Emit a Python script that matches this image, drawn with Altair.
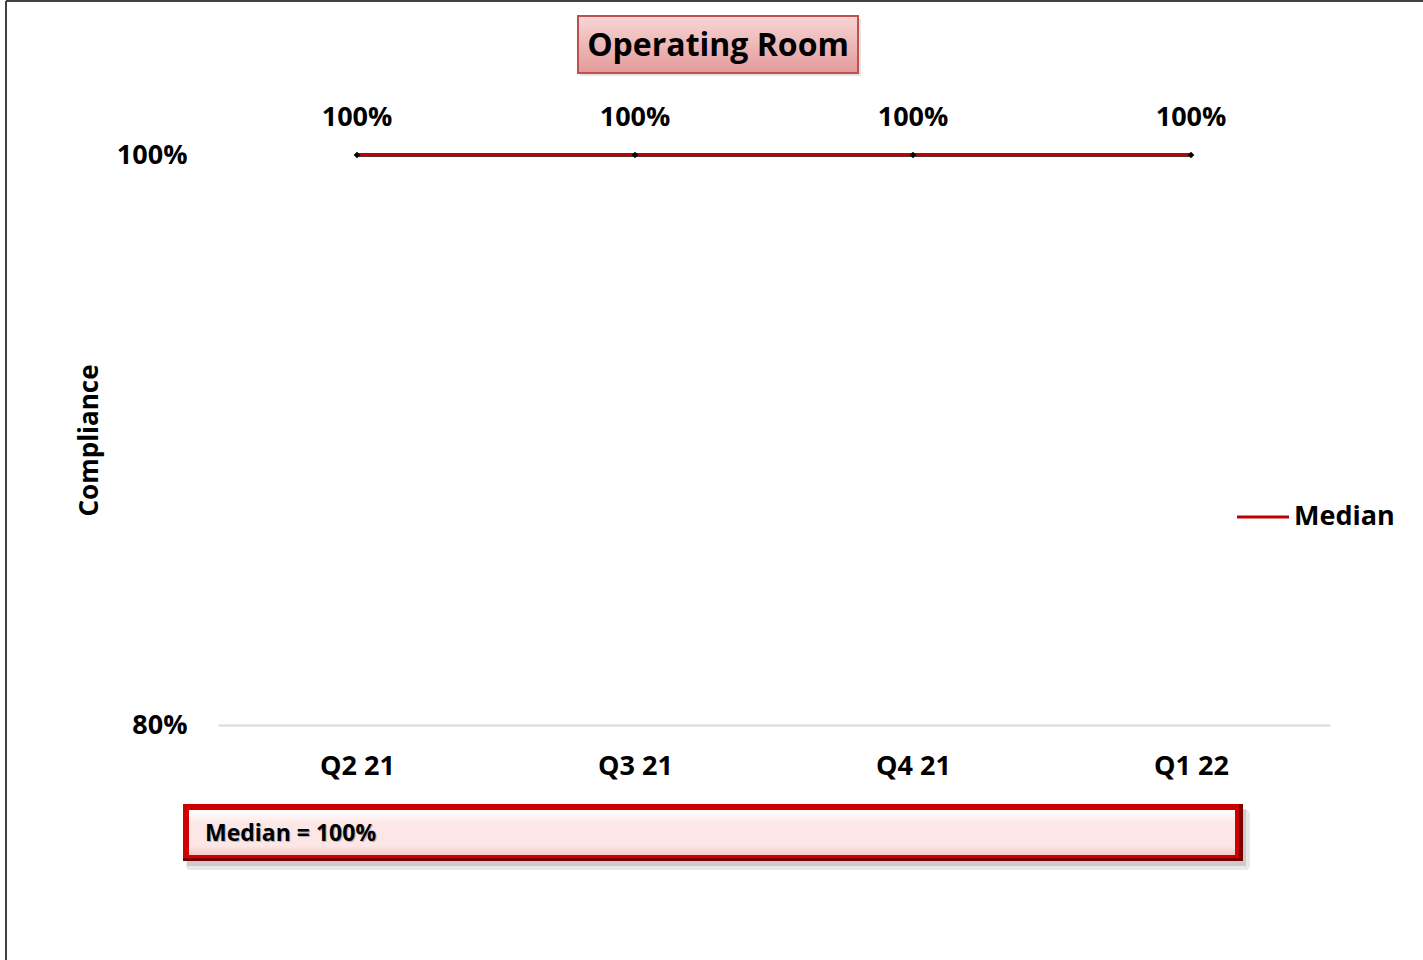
import altair as alt
import pandas as pd

# Quarterly compliance for the Operating Room
quarters = ["Q2 21", "Q3 21", "Q4 21", "Q1 22"]
compliance = [1.00, 1.00, 1.00, 1.00]
median_value = 1.00

FONT = "Open Sans"

df = pd.DataFrame({
    "quarter": quarters,
    "compliance": compliance,
    "median": [median_value] * len(quarters),
})

W, H = 1112, 570
LEFT, TOP = 218, 155

x_enc = alt.X(
    "quarter:N", sort=quarters, title=None,
    scale=alt.Scale(paddingInner=0, paddingOuter=0),
    axis=alt.Axis(labelAngle=0, labelFont=FONT, labelFontSize=27, labelFontWeight="bold",
                  labelColor="black", labelPadding=28, ticks=False,
                  domainColor="#d9d9d9", domainWidth=2),
)
y_enc = alt.Y(
    "compliance:Q", title="Compliance",
    scale=alt.Scale(domain=[0.8, 1.0], nice=False, zero=False),
    axis=alt.Axis(values=[0.8, 1.0], format=".0%", labelFont=FONT, labelFontSize=27,
                  labelFontWeight="bold", labelColor="black", labelPadding=31,
                  ticks=False, domain=False, grid=False,
                  titleFont=FONT, titleFontSize=26, titleFontWeight="bold",
                  titleColor="black", titlePadding=14),
)

base = alt.Chart(df)

data_line = base.mark_line(color="#404040", strokeWidth=4).encode(x=x_enc, y=y_enc)
median_line = base.mark_line(color="#c00000", strokeWidth=2.5).encode(
    x=alt.X("quarter:N", sort=quarters), y=alt.Y("median:Q"))
points = base.mark_point(shape="diamond", filled=True, color="black", size=45, opacity=1).encode(
    x=alt.X("quarter:N", sort=quarters), y=alt.Y("compliance:Q"))
labels = base.mark_text(font=FONT, fontSize=27, fontWeight="bold", color="black", dy=-37).encode(
    x=alt.X("quarter:N", sort=quarters), y=alt.Y("compliance:Q"),
    text=alt.Text("compliance:Q", format=".0%"))

one = pd.DataFrame({"k": [0]})
deco = alt.Chart(one)

# Outer frame (left and top edges)
frame_left = deco.mark_rule(color="#404040", strokeWidth=2).encode(
    x=alt.value(6 - LEFT), y=alt.value(1 - TOP), y2=alt.value(960 - TOP))
frame_top = deco.mark_rule(color="#404040", strokeWidth=2).encode(
    x=alt.value(6 - LEFT), x2=alt.value(1423 - LEFT), y=alt.value(1 - TOP))

# Title box
title_shadow = deco.mark_rect(fill="#cccccc", opacity=0.5).encode(
    x=alt.value(580 - LEFT), x2=alt.value(861 - LEFT), y=alt.value(19 - TOP), y2=alt.value(76 - TOP))
title_box = deco.mark_rect(
    fill=alt.Gradient(gradient="linear", x1=0, y1=0, x2=0, y2=1,
                      stops=[alt.GradientStop(color="#f7d6d6", offset=0),
                             alt.GradientStop(color="#eeb8b8", offset=0.5),
                             alt.GradientStop(color="#e39a9a", offset=1)]),
    stroke="#c0504d", strokeWidth=2,
).encode(x=alt.value(578 - LEFT), x2=alt.value(858 - LEFT), y=alt.value(16 - TOP), y2=alt.value(73 - TOP))
title_text = deco.mark_text(font=FONT, fontSize=32, fontWeight="bold", color="black",
                            align="center", baseline="middle").encode(
    x=alt.value(718 - LEFT), y=alt.value(46 - TOP), text=alt.value("Operating Room"))

# Median summary box
box_shadow_outer = deco.mark_rect(fill="#bdbdbd", opacity=0.35, cornerRadius=4).encode(
    x=alt.value(186 - LEFT), x2=alt.value(1250 - LEFT), y=alt.value(810 - TOP), y2=alt.value(870 - TOP))
box_shadow = deco.mark_rect(fill="#a0a0a0", opacity=0.4).encode(
    x=alt.value(187 - LEFT), x2=alt.value(1246 - LEFT), y=alt.value(809 - TOP), y2=alt.value(866 - TOP))
box_outer = deco.mark_rect(fill="#7a0000").encode(
    x=alt.value(183 - LEFT), x2=alt.value(1243 - LEFT), y=alt.value(804 - TOP), y2=alt.value(861 - TOP))
box_edge = deco.mark_rect(fill="#d00000").encode(
    x=alt.value(183 - LEFT), x2=alt.value(1239 - LEFT), y=alt.value(804 - TOP), y2=alt.value(858 - TOP))
box_inner = deco.mark_rect(
    fill=alt.Gradient(gradient="linear", x1=0, y1=0, x2=0, y2=1,
                      stops=[alt.GradientStop(color="#ffffff", offset=0),
                             alt.GradientStop(color="#fde6e6", offset=0.3),
                             alt.GradientStop(color="#fde6e6", offset=0.8),
                             alt.GradientStop(color="#f3caca", offset=1)]),
).encode(x=alt.value(189 - LEFT), x2=alt.value(1235 - LEFT), y=alt.value(810 - TOP), y2=alt.value(855 - TOP))
box_text_shadow = deco.mark_text(font=FONT, fontSize=23, fontWeight="bold", color="#b0b0b0",
                                 align="left", baseline="middle").encode(
    x=alt.value(206 - LEFT), y=alt.value(835 - TOP), text=alt.value(f"Median = {median_value:.0%}"))
box_text = deco.mark_text(font=FONT, fontSize=23, fontWeight="bold", color="black",
                          align="left", baseline="middle").encode(
    x=alt.value(205 - LEFT), y=alt.value(834 - TOP), text=alt.value(f"Median = {median_value:.0%}"))

# Legend entry for the median line
legend_line = deco.mark_rule(color="#c00000", strokeWidth=3).encode(
    x=alt.value(1237 - LEFT), x2=alt.value(1289 - LEFT), y=alt.value(517 - TOP))
legend_text = deco.mark_text(font=FONT, fontSize=27, fontWeight="bold", color="black",
                             align="left", baseline="middle").encode(
    x=alt.value(1294 - LEFT), y=alt.value(517 - TOP), text=alt.value("Median"))

chart = alt.layer(
    frame_left, frame_top,
    data_line, median_line, points, labels,
    title_shadow, title_box, title_text,
    box_shadow_outer, box_shadow, box_outer, box_edge, box_inner, box_text_shadow, box_text,
    legend_line, legend_text,
).properties(
    width=W, height=H,
    background="white",
    autosize=alt.AutoSizeParams(type="none"),
    padding={"left": LEFT, "top": TOP, "right": 1423 - LEFT - W, "bottom": 960 - TOP - H},
).configure_view(strokeWidth=0, stroke="transparent")

chart.save("out.html", embed_options={"renderer": "svg", "actions": False})
